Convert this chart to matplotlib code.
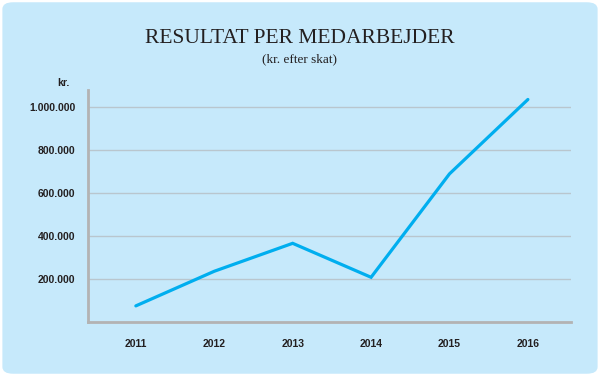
import matplotlib.pyplot as plt
from matplotlib.patches import FancyBboxPatch
from matplotlib.ticker import FuncFormatter


YEARS = [2011, 2012, 2013, 2014, 2015, 2016]
RESULT = [75000, 236000, 366000, 208000, 689000, 1035000]
Y_TICKS = [200000, 400000, 600000, 800000, 1000000]

BG = "#c6e9fb"
LINE = "#00aeef"
TEXT = "#231f20"


def dk_format(v, pos):
    return "{:,.0f}".format(v).replace(",", ".")


def main():
    fig = plt.figure(figsize=(6, 3.76), dpi=100)
    fig.patch.set_facecolor("white")

    panel = FancyBboxPatch((0.004, 0.006), 0.992, 0.988,
                           boxstyle="round,pad=0,rounding_size=0.018",
                           transform=fig.transFigure, facecolor=BG,
                           edgecolor="none", zorder=-10)
    fig.patches.append(panel)

    ax = fig.add_axes([0.1467, 0.1436, 0.805, 0.617])
    ax.set_facecolor("none")
    ax.plot(YEARS, RESULT, color=LINE, linewidth=2.3, solid_capstyle="round",
            solid_joinstyle="miter", zorder=3)

    ax.set_xlim(2010.39, 2016.55)
    ax.set_ylim(0, 1079000)
    ax.set_xticks(YEARS)
    ax.set_yticks(Y_TICKS)
    ax.yaxis.set_major_formatter(FuncFormatter(dk_format))
    ax.tick_params(length=0, labelsize=7.5, colors=TEXT)
    ax.tick_params(axis="x", pad=12)
    ax.tick_params(axis="y", pad=9)
    for lbl in ax.get_xticklabels() + ax.get_yticklabels():
        lbl.set_fontweight("bold")
        lbl.set_fontfamily("Liberation Sans")

    ax.grid(axis="y", color="#b9c6ce", linewidth=1.0)
    ax.set_axisbelow(True)
    for side in ["top", "right"]:
        ax.spines[side].set_visible(False)
    for side in ["left", "bottom"]:
        ax.spines[side].set_color("#b3b3b3")
        ax.spines[side].set_linewidth(2.0)

    fig.text(0.116, 0.765, "kr.", ha="right", va="bottom", fontsize=7.5,
             fontweight="bold", family="Liberation Sans", color=TEXT)

    fig.text(0.5, 0.897, "RESULTAT PER MEDARBEJDER", ha="center", va="center",
             fontsize=15.5, family="Liberation Serif", color=TEXT)
    fig.text(0.5, 0.842, "(kr. efter skat)", ha="center", va="center",
             fontsize=9.5, family="Liberation Serif", color=TEXT)

    fig.savefig("out.png", dpi=100, facecolor=fig.get_facecolor())


if __name__ == "__main__":
    main()
